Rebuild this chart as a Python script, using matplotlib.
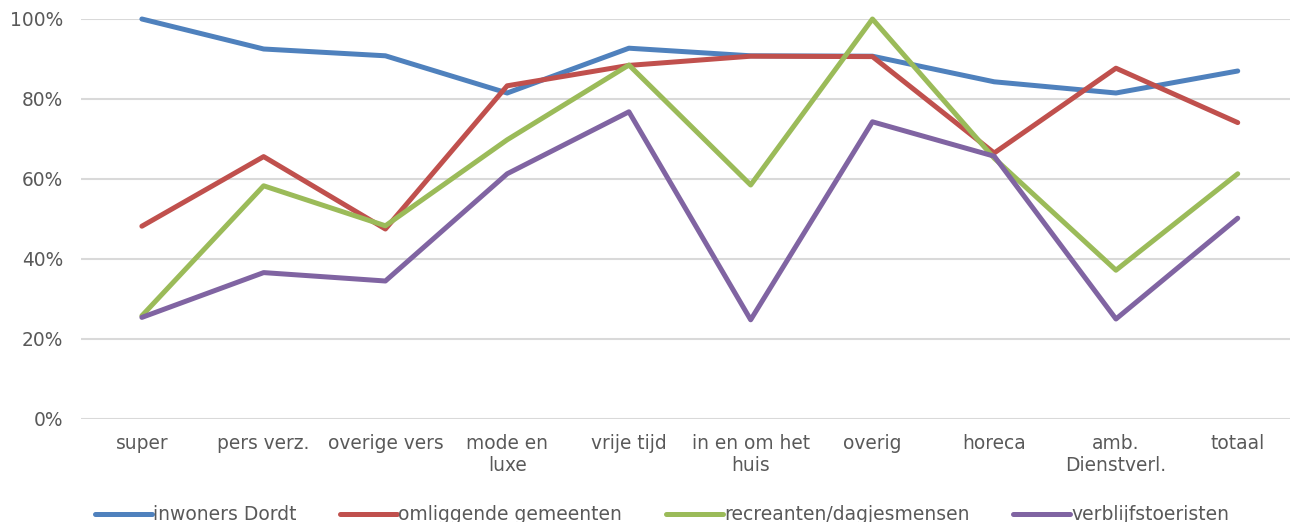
import matplotlib
matplotlib.use("Agg")
import matplotlib.pyplot as plt
from matplotlib.ticker import PercentFormatter

categories = ["super", "pers verz.", "overige vers", "mode en\nluxe", "vrije tijd",
              "in en om het\nhuis", "overig", "horeca", "amb.\nDienstverl.", "totaal"]
inwoners = [100.0, 92.5, 90.8, 81.5, 92.7, 90.8, 90.7, 84.3, 81.5, 87.0]
omliggende = [48.2, 65.6, 47.5, 83.3, 88.4, 90.7, 90.6, 66.5, 87.7, 74.1]
recreanten = [25.8, 58.3, 48.3, 69.8, 88.5, 58.5, 100.0, 65.2, 37.2, 61.3]
verblijf = [25.4, 36.6, 34.5, 61.3, 76.8, 24.8, 74.3, 65.7, 25.0, 50.2]
series_names = ["inwoners Dordt", "omliggende gemeenten", "recreanten/dagjesmensen", "verblijfstoeristen"]
yticks = [0, 20, 40, 60, 80, 100]

colors = ["#4F81BD", "#C0504D", "#9BBB59", "#8064A2"]
textc = "#595959"
plt.rcParams["font.family"] = ["DejaVu Sans"]

fig = plt.figure(figsize=(12.9, 5.22), dpi=100)
ax = fig.add_axes([81/1290, 1 - 419/522, 1217.6/1290, 400/522])
x = list(range(len(categories)))
for vals, c, name in zip([inwoners, omliggende, recreanten, verblijf], colors, series_names):
    ax.plot(x, vals, color=c, lw=3.6, label=name, solid_capstyle="round", solid_joinstyle="round", clip_on=False, zorder=3)

ax.set_xlim(-0.5, len(categories) - 0.5)
ax.set_ylim(0, 100)
ax.set_yticks(yticks)
ax.yaxis.set_major_formatter(PercentFormatter(decimals=0))
ax.set_xticks(x)
ax.set_xticklabels(categories, linespacing=1.25)
ax.tick_params(axis="both", length=0, labelsize=13.4, colors=textc)
ax.tick_params(axis="y", pad=13)
ax.tick_params(axis="x", pad=10.5)
ax.grid(axis="y", color="#D9D9D9", lw=1.5)
ax.set_axisbelow(True)
for s in ax.spines.values():
    s.set_visible(False)

leg = fig.legend(loc="center", bbox_to_anchor=(662/1290, 7/522), ncol=4, frameon=False,
                 fontsize=13.5, handlelength=3.04, handletextpad=0.08, columnspacing=2.3,
                 labelcolor=textc, borderaxespad=0)
for l in leg.get_lines():
    l.set_linewidth(3.6)

fig.savefig("out.png", dpi=100)
